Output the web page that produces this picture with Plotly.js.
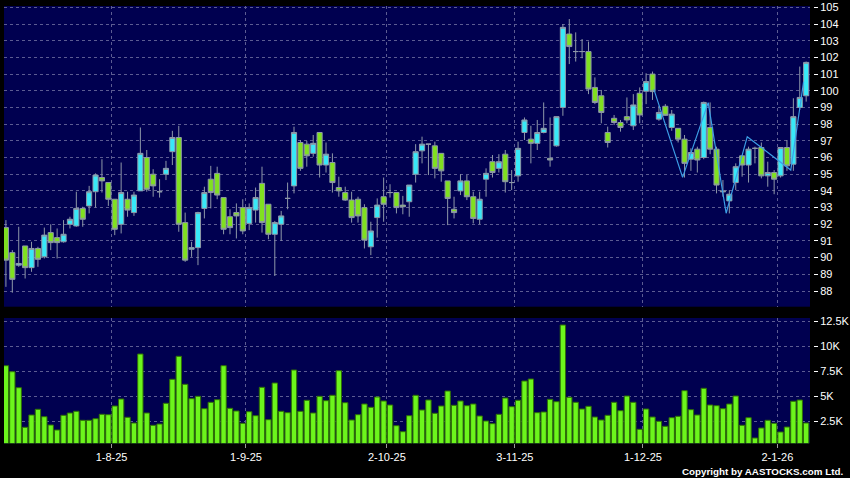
<!DOCTYPE html>
<html>
<head>
<meta charset="utf-8">
<script src="https://cdn.plot.ly/plotly-3.0.1.min.js"></script>
<style>
html,body{margin:0;padding:0;background:#000;}
#chart{width:850px;height:478px;}
</style>
</head>
<body>
<div id="chart"></div>
<script>
// Daily OHLC, one entry per trading day (first = early Jul 2025, last = 8 Jan 2026)
const openP = [91.8,90.3,89.55,90.7,89.4,90.55,90.05,91.5,91.2,90.95,
92.0,91.9,92.95,93.1,93.95,94.8,94.5,93.5,92.0,93.5,
92.7,94.0,96.0,95.0,93.95,95.0,96.35,97.2,92.1,90.5,
90.6,92.95,94.7,95.05,93.6,92.45,92.7,93.0,92.05,92.85,
94.45,93.2,91.4,92.0,93.55,94.3,96.9,96.8,96.25,97.5,
95.55,95.7,94.2,93.9,93.45,93.5,93.0,90.65,92.4,93.65,
93.9,93.9,93.15,93.35,95.0,96.4,96.8,96.7,96.25,94.6,
92.9,94.0,94.6,93.65,92.3,94.7,95.75,95.35,96.2,94.5,
94.9,97.5,97.1,96.85,97.5,95.95,96.7,99.0,103.4,102.35,
102.35,102.35,100.2,99.7,97.5,98.35,98.1,98.45,97.9,99.85,
99.97,101.0,98.3,99.07,97.8,97.75,97.1,95.9,96.5,96.0,
97.8,96.5,94.0,93.4,94.5,96.1,95.55,96.55,96.6,94.9,
95.1,94.9,96.6,95.6,99.0,99.7];
const highP = [92.25,90.45,91.85,90.7,90.95,90.65,91.8,92.0,91.75,92.25,
92.45,93.95,93.05,94.3,95.05,95.9,94.5,93.5,95.7,93.95,
93.95,97.8,96.45,95.3,94.7,95.8,97.6,97.9,92.7,90.95,
92.75,94.25,95.5,95.45,93.6,92.9,93.25,93.5,93.25,94.2,
95.45,93.2,92.2,92.8,94.5,97.85,97.05,97.0,97.35,97.5,
96.9,96.25,94.85,94.25,93.95,93.65,93.2,92.15,93.55,94.8,
94.4,93.9,93.7,94.35,96.8,97.25,96.8,96.95,96.25,94.6,
93.65,95.0,94.95,93.95,93.95,95.35,96.15,96.2,96.45,95.25,
96.95,98.4,97.9,98.25,99.3,98.4,98.45,104.0,104.3,103.5,
103.1,102.95,100.8,100.05,97.85,98.55,98.25,99.6,99.8,100.2,
101.05,101.15,99.1,99.2,98.85,97.75,97.35,96.55,96.65,99.35,
99.3,96.65,94.65,94.05,95.65,96.15,96.65,96.65,96.9,95.75,
95.25,96.6,97.05,99.55,101.45,101.75];
const lowP = [88.25,87.9,89.45,88.75,89.15,89.45,89.95,90.45,89.95,90.9,
91.75,91.85,91.85,92.65,93.0,93.9,93.1,91.35,91.45,92.45,
92.5,94.0,93.95,93.65,93.6,94.65,95.55,91.55,89.75,90.05,
89.55,92.35,92.95,93.5,91.4,91.4,91.15,91.4,91.65,92.1,
91.5,91.1,88.9,91.0,92.9,93.85,95.2,95.45,96.05,94.8,
95.1,93.9,93.65,93.4,92.1,92.1,90.55,90.15,91.2,92.15,
93.6,92.65,92.6,92.45,94.5,95.65,94.95,94.75,94.55,91.95,
92.35,93.75,93.45,92.05,92.0,93.65,94.8,95.1,93.9,94.05,
94.55,97.05,95.65,96.45,97.45,95.45,96.65,98.5,101.6,101.75,
101.95,99.8,99.2,98.05,96.6,97.95,97.55,98.05,97.65,98.05,
99.2,99.45,98.2,98.5,97.6,96.9,94.8,95.2,95.1,95.9,
96.2,93.85,93.65,92.65,94.05,94.85,94.5,95.65,94.75,94.25,
93.8,94.8,95.2,95.2,98.85,99.35];
const closeP = [89.85,88.7,89.65,89.4,90.55,89.9,91.35,90.9,90.9,91.4,
92.3,92.95,92.3,93.95,94.95,94.6,93.5,91.7,93.9,92.85,
93.75,96.25,94.1,94.3,93.95,95.35,97.2,92.0,89.85,90.6,
92.7,93.9,93.9,93.75,91.7,91.8,92.5,91.6,93.0,93.6,
92.1,91.4,92.1,92.5,93.55,97.5,95.35,96.1,96.85,95.55,
96.2,94.5,94.0,93.45,92.4,92.5,91.05,91.6,93.15,93.2,
93.9,93.0,93.05,94.35,96.35,96.8,96.8,95.35,95.2,93.55,
92.7,94.6,93.65,92.35,93.5,95.05,95.1,95.75,94.55,94.5,
96.55,98.25,96.85,97.5,97.75,95.85,98.45,103.8,102.65,102.35,
102.35,100.1,99.3,98.7,96.9,98.1,97.8,98.25,99.15,98.55,
100.55,99.95,98.7,98.53,98.6,97.1,95.65,96.3,95.85,99.3,
96.5,94.35,93.95,93.8,95.45,95.55,96.5,96.55,94.9,95.1,
94.7,96.6,95.5,98.45,99.6,101.7];
const volume = [8030,7430,5830,1870,3100,3670,2930,2100,1600,3070,
3300,3470,2570,2570,2730,3170,3130,4000,4700,2870,
2300,9200,3300,2070,2200,4270,6670,8970,6170,4730,
4970,3730,4370,4630,8030,3770,3500,2270,3430,3030,
5870,2630,6300,3470,3330,7600,3470,4570,3300,4970,
4530,5070,7530,4330,2600,3130,4200,3870,4900,4500,
4100,2030,1430,3030,5070,3600,4600,3270,4000,5500,
4070,4500,4030,4200,3000,2500,2230,3170,4800,3930,
4570,6500,6700,3330,3400,4670,4430,12100,4870,4370,
3700,3970,2900,2600,3070,4370,3530,5000,4370,1670,
3700,2900,2470,1970,2830,2970,5530,3630,3100,5770,
4100,4030,3730,4200,5000,2070,2830,800,1800,2570,
2270,1400,1900,4470,4600,2300];
// Month-start ticks: index of first trading day of the month
const monthStartIdx = [17, 38, 60, 80, 100, 121];
const monthLabels = ['1-8-25','1-9-25','2-10-25','3-11-25','1-12-25','2-1-26'];
// Overlay line (swing points): position in trading-day units, price
const swingPos = [101.2, 105.7, 109.7, 112.5, 115.8, 122.6, 124.6];
const swingPrice = [100.1, 94.81, 99.29, 92.66, 97.25, 95.25, 100.54];
const priceTicks = [88,89,90,91,92,93,94,95,96,97,98,99,100,101,102,103,104,105];
const volTickVals = [2500,5000,7500,10000,12500];
const volTickText = ['2.5K','5K','7.5K','10K','12.5K'];

const idx = closeP.map((_, i) => i);
const tickPos = monthStartIdx.map(v => v - 0.5);

const gridCol = '#5c5c92';
const wickCol = '#8e98a8';
const W = 850, H = 478;

const traces = [
  {
    type: 'candlestick', x: idx, open: openP, high: highP, low: lowP, close: closeP,
    xaxis: 'x', yaxis: 'y',
    increasing: {fillcolor: '#38e8f8', line: {color: wickCol, width: 1}},
    decreasing: {fillcolor: '#80e020', line: {color: wickCol, width: 1}},
    whiskerwidth: 0, hoverinfo: 'skip'
  },
  {
    type: 'scatter', mode: 'lines', x: swingPos, y: swingPrice,
    xaxis: 'x', yaxis: 'y', line: {color: '#3c9ee6', width: 1.2}, hoverinfo: 'skip'
  },
  {
    type: 'bar', x: idx, y: volume, xaxis: 'x2', yaxis: 'y2',
    marker: {color: '#6cf51c', line: {color: '#2f6f06', width: 1}}, hoverinfo: 'skip'
  }
];

const tickFont = {family: 'Arial, "Liberation Sans", sans-serif', size: 11, color: '#ffffff'};

const layout = {
  width: W, height: H,
  paper_bgcolor: '#000000', plot_bgcolor: '#000050',
  margin: {l: 0, r: 0, t: 0, b: 0, pad: 0},
  showlegend: false,
  bargap: 0.17,
  boxgap: 0.2,
  boxgroupgap: 0,
  xaxis: {
    domain: [4 / W, 810 / W], range: [-0.3, 125.6], anchor: 'y',
    rangeslider: {visible: false},
    tickmode: 'array', tickvals: tickPos, showticklabels: false, ticks: '',
    showgrid: true, gridcolor: gridCol, griddash: '3px,3px', gridwidth: 1,
    zeroline: false, showline: false, fixedrange: true
  },
  yaxis: {
    domain: [1 - 306.7 / H, 1 - 6 / H], range: [87.06, 105.08],
    side: 'right', anchor: 'free', position: 813 / W,
    tickmode: 'array', tickvals: priceTicks, ticks: 'outside', ticklen: 4, tickcolor: '#ffffff', tickwidth: 1,
    tickfont: tickFont, showgrid: true, gridcolor: gridCol, griddash: '3px,3px', gridwidth: 1,
    zeroline: false, showline: false, fixedrange: true
  },
  xaxis2: {
    domain: [4 / W, 810 / W], range: [-0.3, 125.6], anchor: 'y2',
    tickmode: 'array', tickvals: tickPos, ticktext: monthLabels,
    ticks: 'outside', ticklen: 4, tickcolor: '#9a9a9a', tickwidth: 1, ticklabelstandoff: -1,
    tickfont: tickFont, showgrid: true, gridcolor: gridCol, griddash: '3px,3px', gridwidth: 1,
    zeroline: false, showline: false, fixedrange: true
  },
  yaxis2: {
    domain: [1 - 443.3 / H, 1 - 318 / H], range: [270, 12800],
    side: 'right', anchor: 'free', position: 813 / W,
    tickmode: 'array', tickvals: volTickVals, ticktext: volTickText,
    ticks: 'outside', ticklen: 4, tickcolor: '#ffffff', tickwidth: 1,
    tickfont: tickFont, showgrid: true, gridcolor: gridCol, griddash: '3px,3px', gridwidth: 1,
    zeroline: false, showline: false, fixedrange: true
  },
  annotations: [{
    xref: 'paper', yref: 'paper', x: 845 / W, y: 1 - 471.7 / H,
    xanchor: 'right', yanchor: 'middle', showarrow: false,
    text: 'Copyright by AASTOCKS.com Ltd.',
    font: {family: 'Arial, "Liberation Sans", sans-serif', size: 9.8, color: '#ffffff', weight: 'bold'}
  }]
};

Plotly.newPlot('chart', traces, layout, {staticPlot: true, displayModeBar: false});
</script>
</body>
</html>
